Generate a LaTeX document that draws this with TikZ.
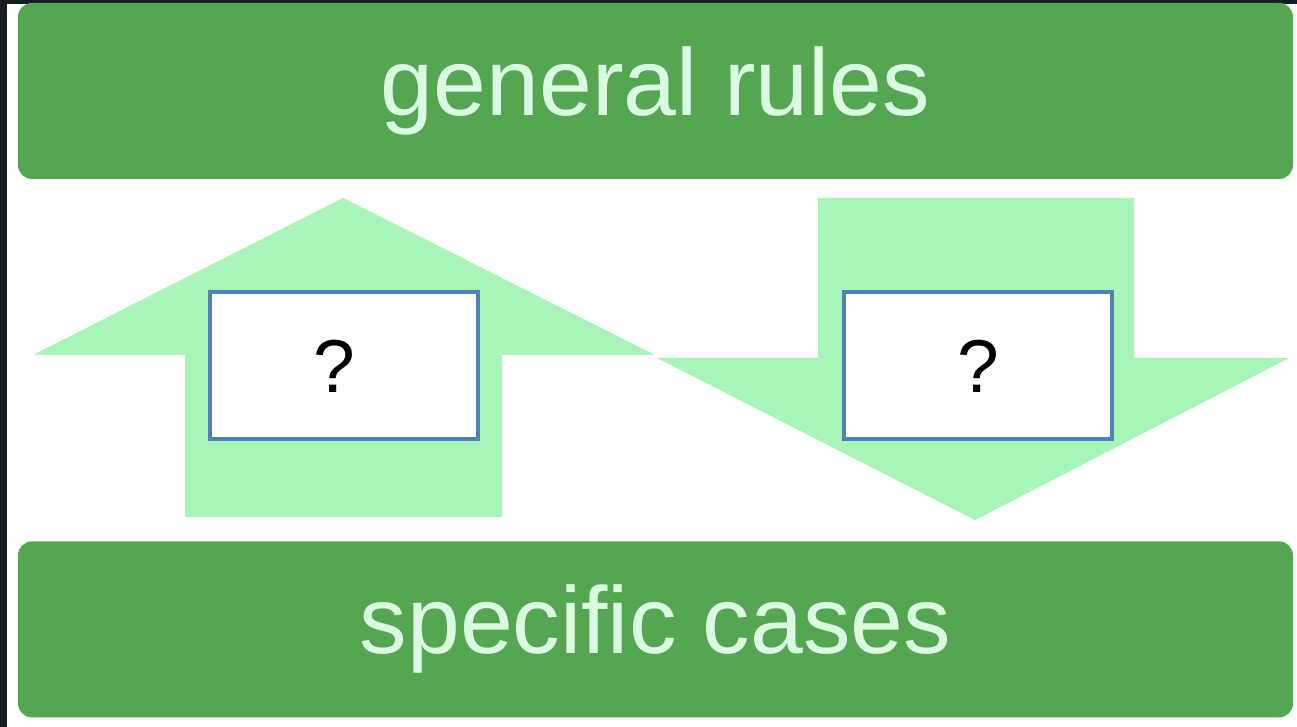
\documentclass[tikz,border=0pt]{standalone}
\usepackage{fontspec}
\setmainfont{Liberation Sans}
\usepackage{xcolor}
\definecolor{bargreen}{RGB}{85, 166, 80}
\definecolor{bartext}{RGB}{218, 250, 226}
\definecolor{arrowgreen}{RGB}{168, 245, 186}
\definecolor{boxblue}{RGB}{79, 129, 189}
\definecolor{darkframe}{RGB}{20, 28, 36}
\usetikzlibrary{
    positioning
}
\tikzstyle{bar} = [
    rectangle,
    rounded corners=14pt,
    minimum width=1275pt,
    minimum height=176pt,
    inner sep=0pt,
    fill=bargreen,
    text=bartext,
    font=\fontsize{95}{100}\selectfont
]
\tikzstyle{qbox} = [
    rectangle, draw=boxblue,
    line width=4pt,
    minimum width=268pt,
    minimum height=147pt,
    inner sep=0pt,
    text centered,
    fill=white,
    font=\fontsize{75}{80}\selectfont
]
\tikzstyle{bigarrow} = [
    fill=arrowgreen
]
\begin{document}
\begin{tikzpicture}[
	x=1pt, y=1pt
]

\useasboundingbox (0,0) rectangle (1297,727);
\fill[darkframe] (0,0) rectangle (1297,727);
\fill[white] (7,0) rectangle (1297,723);

% big arrows
\fill [bigarrow] (343,529) -- (655,372) -- (502,372) -- (502,210)
    -- (185,210) -- (185,372) -- (33,372) -- cycle;
\fill [bigarrow] (818,529) -- (1134,529) -- (1134,369) -- (1289,369)
    -- (975,207) -- (657,369) -- (818,369) -- cycle;

\node (general) [bar] at (655.5,636) {general rules};
\node (specific) [bar, below=362pt of general] {specific cases};

\node (up) [qbox] at (344,361) {?\hspace*{20pt}};
\node (down) [qbox, right=362pt of up] {?};

\end{tikzpicture}
\end{document}
